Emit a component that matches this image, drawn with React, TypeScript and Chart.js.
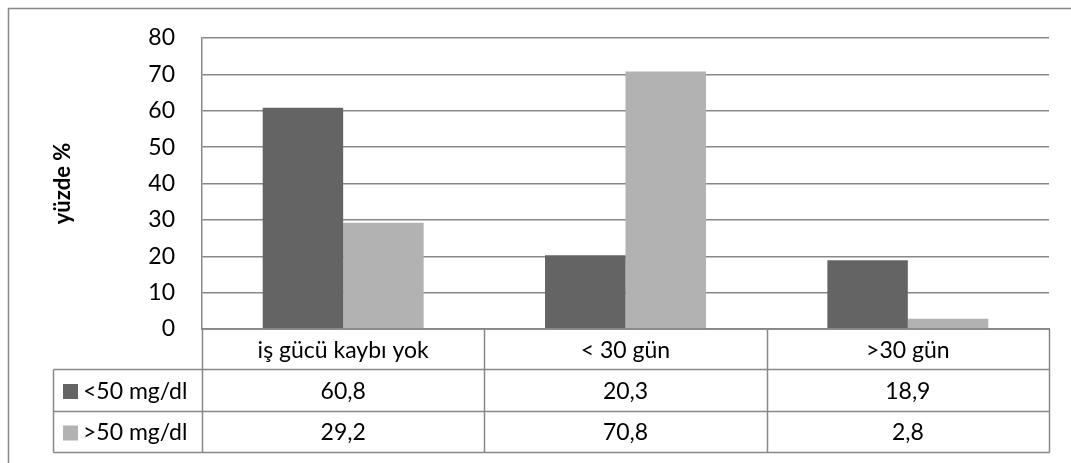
import React, { useEffect, useRef } from "react";
import { Chart, registerables } from "chart.js";

Chart.register(...registerables);

const categories = ["iş gücü kaybı yok", "< 30 gün", ">30 gün"];
const seriesNames = ["<50 mg/dl", ">50 mg/dl"];
const lowValues = [60.8, 20.3, 18.9];
const highValues = [29.2, 70.8, 2.8];
const seriesColors = ["#646464", "#b2b2b2"];
const yTicks = [0, 10, 20, 30, 40, 50, 60, 70, 80];

const FONT = "Lato, 'Open Sans', sans-serif";
const FONT_SIZE = 23;
const LINE = "#888888";

const fmt = (v: number) => v.toFixed(1).replace(".", ",");

// Draws the outer frame and the data table under the plot.
const tablePlugin = {
  id: "dataTable",
  afterDraw(chart: any) {
    const ctx = chart.ctx as CanvasRenderingContext2D;
    const x = chart.scales.x;
    const area = chart.chartArea;
    const rowTops = [area.bottom, area.bottom + 40.5, area.bottom + 82.5, area.bottom + 123.5];
    const legendLeft = 53.5;
    const colEdges: number[] = [];
    const n = categories.length;
    const step = (area.right - area.left) / n;
    for (let i = 0; i <= n; i++) colEdges.push(Math.round(area.left + step * i) + 0.5);

    ctx.save();
    ctx.strokeStyle = LINE;
    ctx.lineWidth = 1.5;

    // outer frame
    ctx.beginPath();
    ctx.moveTo(8.5, chart.height);
    ctx.lineTo(8.5, 8.5);
    ctx.lineTo(chart.width, 8.5);
    ctx.stroke();

    // horizontal table lines
    ctx.beginPath();
    ctx.moveTo(colEdges[0], rowTops[0]);
    ctx.lineTo(colEdges[n], rowTops[0]);
    for (let r = 1; r < rowTops.length; r++) {
      ctx.moveTo(legendLeft, rowTops[r]);
      ctx.lineTo(colEdges[n], rowTops[r]);
    }
    // vertical table lines
    ctx.moveTo(legendLeft, rowTops[1]);
    ctx.lineTo(legendLeft, rowTops[3]);
    for (let i = 0; i <= n; i++) {
      ctx.moveTo(colEdges[i], rowTops[0]);
      ctx.lineTo(colEdges[i], rowTops[3]);
    }
    ctx.stroke();

    ctx.fillStyle = "#000";
    ctx.font = `${FONT_SIZE}px ${FONT}`;
    ctx.textAlign = "center";
    ctx.textBaseline = "middle";
    const rows = [categories, lowValues.map(fmt), highValues.map(fmt)];
    rows.forEach((row, r) => {
      const cy = (rowTops[r] + rowTops[r + 1]) / 2 + 1;
      row.forEach((txt, i) => {
        ctx.fillText(txt, x.getPixelForValue(i), cy);
      });
    });

    // legend keys
    ctx.textAlign = "left";
    seriesNames.forEach((name, s) => {
      const cy = (rowTops[s + 1] + rowTops[s + 2]) / 2 + 1;
      ctx.fillStyle = seriesColors[s];
      ctx.fillRect(63, cy - 7.5, 15, 15);
      ctx.fillStyle = "#000";
      ctx.fillText(name, 83, cy);
    });
    ctx.restore();
  },
};

export default function App() {
  const ref = useRef<HTMLCanvasElement>(null);

  useEffect(() => {
    if (!ref.current) return;
    const chart = new Chart(ref.current, {
      type: "bar",
      data: {
        labels: categories,
        datasets: [
          { label: seriesNames[0], data: lowValues, backgroundColor: seriesColors[0] },
          { label: seriesNames[1], data: highValues, backgroundColor: seriesColors[1] },
        ],
      },
      options: {
        responsive: false,
        animation: false,
        layout: { padding: { top: 38, right: 22, left: 0, bottom: 0 } },
        plugins: { legend: { display: false }, tooltip: { enabled: false } },
        datasets: { bar: { barPercentage: 1, categoryPercentage: 0.57 } },
        scales: {
          x: {
            grid: { display: false, drawTicks: false },
            border: { color: LINE, width: 1.5 },
            ticks: { display: false },
            afterFit: (s: any) => { s.height = 134; },
          },
          y: {
            min: 0,
            max: 80,
            afterBuildTicks: (s: any) => { s.ticks = yTicks.map((v) => ({ value: v })); },
            afterFit: (s: any) => {
              s.width = 202;
              s.paddingTop = 0;
              s.paddingBottom = 0;
            },
            grid: { color: LINE, lineWidth: 1.5, drawTicks: false },
            border: { color: LINE, width: 1.5 },
            ticks: { color: "#000", font: { family: FONT, size: FONT_SIZE }, padding: 27 },
            title: {
              display: true,
              text: "yüzde %",
              color: "#000",
              font: { family: FONT, size: 22, weight: "bold" },
              padding: { top: 50, bottom: 0 },
            },
          },
        },
      },
      plugins: [tablePlugin],
    });
    return () => chart.destroy();
  }, []);

  return (
    <div style={{ position: "fixed", left: 0, top: 0, width: 1071, height: 463, background: "#fff" }}>
      <canvas ref={ref} width={1071} height={463} />
    </div>
  );
}
